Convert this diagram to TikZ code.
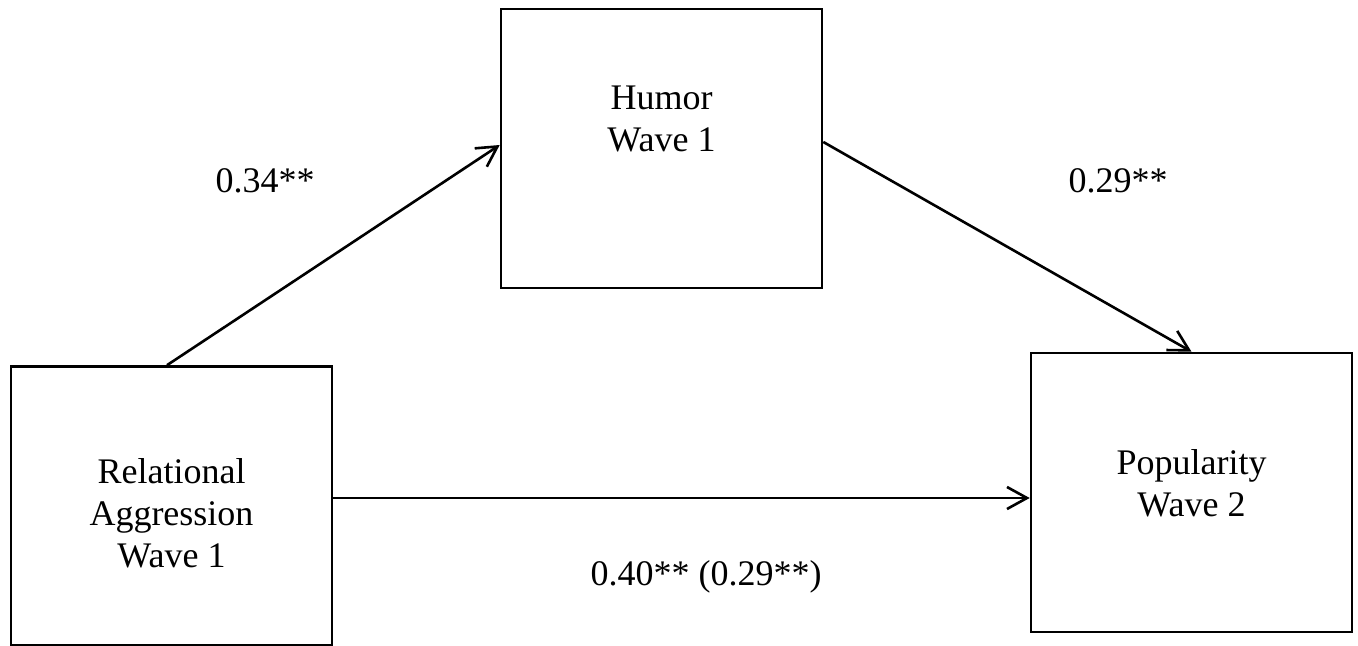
\documentclass[tikz,border=0pt]{standalone}
\usepackage{fontspec}
\setmainfont{Liberation Serif}
\usetikzlibrary{arrows.meta, positioning, calc}

\begin{document}
\begin{tikzpicture}[
    x=0.5pt, y=-0.5pt,
    var/.style={rectangle, draw=black, line width=1.3pt, minimum width=160.5pt,
                minimum height=139.5pt, inner sep=0pt},
    txt/.style={align=center, font=\fontsize{18}{21}\selectfont},
    coef/.style={font=\fontsize{18}{21}\selectfont},
    arr/.style={-{Straight Barb[length=10pt, width=11pt, line width=1.3pt]}, line width=1.3pt}
]
\useasboundingbox (0,0) rectangle (1358,646);
% variables
\node[var, label={[txt, yshift=14.75pt]center:Humor\\Wave 1}] (humor) at (661.5,148.5) {};
\node[var, label={[txt, yshift=-3.5pt]center:Relational\\Aggression\\Wave 1}] (relagg) at (171.5,506) {};
\node[var, label={[txt, yshift=4.5pt]center:Popularity\\Wave 2}] (pop) at (1191.5,492.5) {};
% paths
\draw[arr] ([xshift=-2.25pt]relagg.north) -- ([yshift=1.75pt]humor.west);
\draw[arr] ([yshift=3.25pt]humor.east) -- (pop.north);
\draw[arr] ([yshift=4pt]relagg.east) -- ([yshift=4pt]relagg.east -| pop.west);
% coefficients
\node[coef] (a) at (265,181) {0.34**};
\node[coef] (b) at (1118,181) {0.29**};
\node[coef] (c) at (706,577) {0.40** (0.29**)};
\end{tikzpicture}
\end{document}
